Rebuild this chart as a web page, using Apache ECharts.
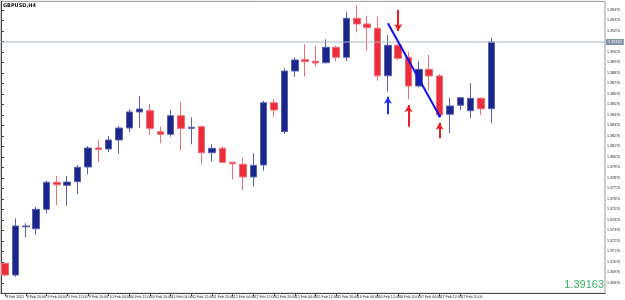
<!DOCTYPE html>
<html>
<head>
<meta charset="utf-8">
<script src="https://cdn.jsdelivr.net/npm/echarts@6/dist/echarts.min.js"></script>
<style>
  html, body { margin: 0; padding: 0; background: #fff; }
  #chart { width: 625px; height: 300px; }
</style>
</head>
<body>
<div id="chart"></div>
<script>
// GBPUSD H4 bars, 8 Feb 12:00 .. 18 Feb 08:00
const times = [
  "8 Feb 12:00", "8 Feb 16:00", "8 Feb 20:00",
  "9 Feb 00:00", "9 Feb 04:00", "9 Feb 08:00", "9 Feb 12:00", "9 Feb 16:00", "9 Feb 20:00",
  "10 Feb 00:00", "10 Feb 04:00", "10 Feb 08:00", "10 Feb 12:00", "10 Feb 16:00", "10 Feb 20:00",
  "11 Feb 00:00", "11 Feb 04:00", "11 Feb 08:00", "11 Feb 12:00", "11 Feb 16:00", "11 Feb 20:00",
  "12 Feb 00:00", "12 Feb 04:00", "12 Feb 08:00", "12 Feb 12:00", "12 Feb 16:00", "12 Feb 20:00",
  "15 Feb 00:00", "15 Feb 04:00", "15 Feb 08:00", "15 Feb 12:00", "15 Feb 16:00", "15 Feb 20:00",
  "16 Feb 00:00", "16 Feb 04:00", "16 Feb 08:00", "16 Feb 12:00", "16 Feb 16:00", "16 Feb 20:00",
  "17 Feb 00:00", "17 Feb 04:00", "17 Feb 08:00", "17 Feb 12:00", "17 Feb 16:00", "17 Feb 20:00",
  "18 Feb 00:00", "18 Feb 04:00", "18 Feb 08:00"
];
const opens = [
  1.37056, 1.36944, 1.37403, 1.37385, 1.37570, 1.37827, 1.37799, 1.37833, 1.37973, 1.38154,
  1.38144, 1.38230, 1.38344, 1.38497, 1.38509, 1.38309, 1.38284, 1.38461, 1.38341, 1.38357,
  1.38109, 1.38151, 1.38018, 1.37999, 1.37878, 1.37992, 1.38585, 1.38309, 1.38887, 1.38995,
  1.38980, 1.38966, 1.39113, 1.39018, 1.39389, 1.39335, 1.39294, 1.38842, 1.39132, 1.39018,
  1.38744, 1.38903, 1.38840, 1.38475, 1.38561, 1.38509, 1.38627, 1.38528
];
const closes = [
  1.36944, 1.37411, 1.37411, 1.37570, 1.37827, 1.37804, 1.37830, 1.37970, 1.38154, 1.38140,
  1.38230, 1.38344, 1.38497, 1.38525, 1.38341, 1.38284, 1.38461, 1.38341, 1.38351, 1.38109,
  1.38151, 1.38018, 1.38004, 1.37878, 1.37989, 1.38585, 1.38516, 1.38887, 1.38992, 1.38976,
  1.38963, 1.39113, 1.39018, 1.39389, 1.39335, 1.39300, 1.38842, 1.39132, 1.39008, 1.38744,
  1.38903, 1.38840, 1.38468, 1.38554, 1.38633, 1.38627, 1.38528, 1.39163
];
const lows = [
  1.36935, 1.36928, 1.37303, 1.37328, 1.37532, 1.37611, 1.37604, 1.37713, 1.37903, 1.38020,
  1.38116, 1.38097, 1.38306, 1.38344, 1.38278, 1.38199, 1.38261, 1.38128, 1.38189, 1.37999,
  1.38023, 1.38011, 1.37856, 1.37754, 1.37785, 1.37938, 1.38452, 1.38287, 1.38833, 1.38833,
  1.38928, 1.38960, 1.38980, 1.38982, 1.39256, 1.39080, 1.38795, 1.38690, 1.38992, 1.38618,
  1.38732, 1.38700, 1.38452, 1.38294, 1.38516, 1.38437, 1.38468, 1.38389
];
const highs = [
  1.37063, 1.37484, 1.37437, 1.37595, 1.37842, 1.37887, 1.37887, 1.37989, 1.38173, 1.38230,
  1.38268, 1.38363, 1.38525, 1.38649, 1.38573, 1.38357, 1.38516, 1.38592, 1.38446, 1.38357,
  1.38189, 1.38170, 1.38018, 1.38061, 1.38103, 1.38604, 1.38620, 1.38913, 1.39018, 1.39141,
  1.39128, 1.39189, 1.39125, 1.39452, 1.39516, 1.39414, 1.39404, 1.39230, 1.39144, 1.39071,
  1.38982, 1.39040, 1.38859, 1.38633, 1.38640, 1.38770, 1.38637, 1.39204
];
const lastPrice = 1.39163;
// price scale labels on the right
const yTicks = [
  1.3687, 1.3697, 1.3707, 1.3717, 1.3727, 1.3737, 1.3747, 1.3757, 1.3767,
  1.3777, 1.3787, 1.3797, 1.3807, 1.3817, 1.3827, 1.3837, 1.3847, 1.3857,
  1.3867, 1.3877, 1.3887, 1.3897, 1.3907, 1.3917, 1.3927, 1.3937, 1.3947
];
// drawn objects: trend line and arrows (bar index, price)
const trendFrom = [37, 1.39341];
const trendTo = [42, 1.38459];
const arrowBars = [38, 37, 39, 42];
const arrowFrom = [1.39468, 1.38475, 1.38357, 1.38246];
const arrowTo = [1.39268, 1.38642, 1.38560, 1.38395];

const yMin = 1.3677;
const yMax = 1.3955;

const chart = echarts.init(document.getElementById("chart"));

const candles = times.map((t, i) => [opens[i], closes[i], lows[i], highs[i]]);
const arrowColors = ["#ee1c24", "#1f2cff", "#ee1c24", "#ee1c24"];

const marks = arrowBars.map((b, i) => [
  { coord: [times[b], arrowFrom[i]], symbol: "none", lineStyle: { color: arrowColors[i], width: 2, type: "solid" } },
  { coord: [times[b], arrowTo[i]], symbol: "arrow", symbolSize: [6, 7] }
]);
marks.push([
  { coord: [times[trendFrom[0]], trendFrom[1]], symbol: "none", lineStyle: { color: "#1010ee", width: 2, type: "solid" } },
  { coord: [times[trendTo[0]], trendTo[1]], symbol: "circle", symbolSize: 3 }
]);

const smallFont = { fontSize: 3.6, color: "#222", fontFamily: "Liberation Sans" };

const option = {
  animation: false,
  backgroundColor: "#fff",
  grid: [
    // candles: bar width 10.44px, first bar centred at x=0.56
    { left: -4.66, right: 128.54, top: 1.4, bottom: 6.7 },
    // frame + price scale
    { left: 1, right: 20, top: 1.4, bottom: 6.7, show: true, borderColor: "#9a9a9a", borderWidth: 1, backgroundColor: "transparent" }
  ],
  xAxis: [
    {
      type: "category",
      gridIndex: 0,
      data: times,
      boundaryGap: true,
      axisLine: { show: false },
      axisTick: { show: true, alignWithLabel: true, interval: 1, length: 3, lineStyle: { color: "#444" } },
      axisLabel: Object.assign({
        interval: 1,
        align: "left",
        margin: 2,
        padding: [0, 0, 0, 1],
        formatter: (v, i) => (i === 0 ? "8 Feb 2021" : v)
      }, smallFont),
      splitLine: { show: false }
    },
    {
      type: "value",
      gridIndex: 1,
      min: 0,
      max: 1,
      axisLine: { show: true, lineStyle: { color: "#444" } },
      axisTick: { show: false },
      axisLabel: { show: false },
      splitLine: { show: false }
    }
  ],
  yAxis: [
    { type: "value", gridIndex: 0, min: yMin, max: yMax, show: false, splitLine: { show: false } },
    {
      type: "value",
      gridIndex: 1,
      position: "right",
      min: yMin,
      max: yMax,
      axisLine: { show: true, lineStyle: { color: "#444" } },
      axisTick: { show: true, length: 3, customValues: yTicks, lineStyle: { color: "#444" } },
      axisLabel: Object.assign({
        margin: 2,
        customValues: yTicks.filter(v => Math.abs(v - lastPrice) > 0.0003),
        formatter: v => v.toFixed(5)
      }, smallFont),
      splitLine: { show: false }
    }
  ],
  series: [
    {
      type: "candlestick",
      xAxisIndex: 0,
      yAxisIndex: 0,
      barWidth: 7,
      data: candles,
      itemStyle: {
        color: "#1b268c",
        color0: "#ee2d3a",
        borderColor: "#5862ad",
        borderColor0: "#f26b76",
        borderWidth: 1
      },
      markLine: {
        silent: true,
        animation: false,
        label: { show: false },
        lineStyle: { type: "solid" },
        data: marks
      }
    },
    {
      // bid line across the whole chart
      type: "line",
      xAxisIndex: 1,
      yAxisIndex: 1,
      data: [[0, lastPrice], [1, lastPrice]],
      symbol: "none",
      silent: true,
      lineStyle: { color: "#aab6c4", width: 1 },
      endLabel: {
        show: true,
        distance: 1,
        formatter: () => lastPrice.toFixed(5),
        backgroundColor: "#8191a8",
        color: "#fff",
        fontSize: 3.8,
        fontFamily: "Liberation Sans",
        padding: [1, 2]
      }
    }
  ],
  graphic: [
    {
      type: "text",
      left: 3,
      top: 3,
      style: { text: "GBPUSD,H4", font: "bold 5px DejaVu Sans", fill: "#111" }
    },
    {
      type: "text",
      right: 21,
      top: 279,
      style: { text: lastPrice.toFixed(5), font: "11px Liberation Sans", fill: "#36b060" }
    }
  ]
};

chart.setOption(option);
window.addEventListener("resize", function () {
  chart.resize();
});
</script>
</body>
</html>
